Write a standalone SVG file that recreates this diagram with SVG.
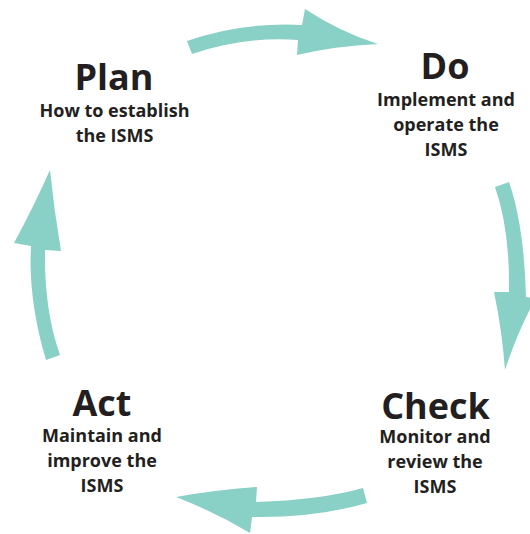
<svg xmlns="http://www.w3.org/2000/svg" width="530" height="534" viewBox="0 0 530 534">
<style>
.arrow{fill:#89d0c6;stroke:none}
.title{font-family:"Open Sans","Liberation Sans",sans-serif;font-weight:700;font-size:36px;fill:#231f20;text-anchor:middle}
.sub{font-family:"Open Sans","Liberation Sans",sans-serif;font-weight:700;font-size:18px;fill:#231f20;text-anchor:middle}
</style>
<rect width="530" height="534" fill="#ffffff"/>
<g id="connectors">
<path class="arrow" d="M187,41 Q240,22 302,25 L305,9 Q340,32 378,44 Q335,46 297,55 L298,40 Q245,36 192,54 Z"/>
<path class="arrow" d="M509,182 Q524,225 526,297 L536,298 Q518,330 505,370 Q502,330 494,292 L509,292 Q510,230 495,187 Z"/>
<path class="arrow" d="M363,488 Q320,500 256,502 L257,487 Q215,490 176,497 Q215,512 250,533 L252,517 Q315,518 367,503 Z"/>
<path class="arrow" d="M46,360 Q28,300 31,246 L14,243 Q33,208 50,170 Q54,210 61,251 L45,250 Q44,310 60,355 Z"/>
</g>
<g id="plan">
<text class="title" x="114" y="90">Plan</text>
<text class="sub" x="114.5" y="117">How to establish</text>
<text class="sub" x="114.5" y="142">the ISMS</text>
</g>
<g id="do">
<text class="title" x="445" y="79">Do</text>
<text class="sub" x="446" y="106">Implement and</text>
<text class="sub" x="446" y="131">operate the</text>
<text class="sub" x="446" y="156">ISMS</text>
</g>
<g id="check">
<text class="title" x="435.5" y="419">Check</text>
<text class="sub" x="435" y="443">Monitor and</text>
<text class="sub" x="435" y="468">review the</text>
<text class="sub" x="435" y="493">ISMS</text>
</g>
<g id="act">
<text class="title" x="102" y="416">Act</text>
<text class="sub" x="102" y="442">Maintain and</text>
<text class="sub" x="102" y="467">improve the</text>
<text class="sub" x="102" y="492">ISMS</text>
</g>
</svg>
